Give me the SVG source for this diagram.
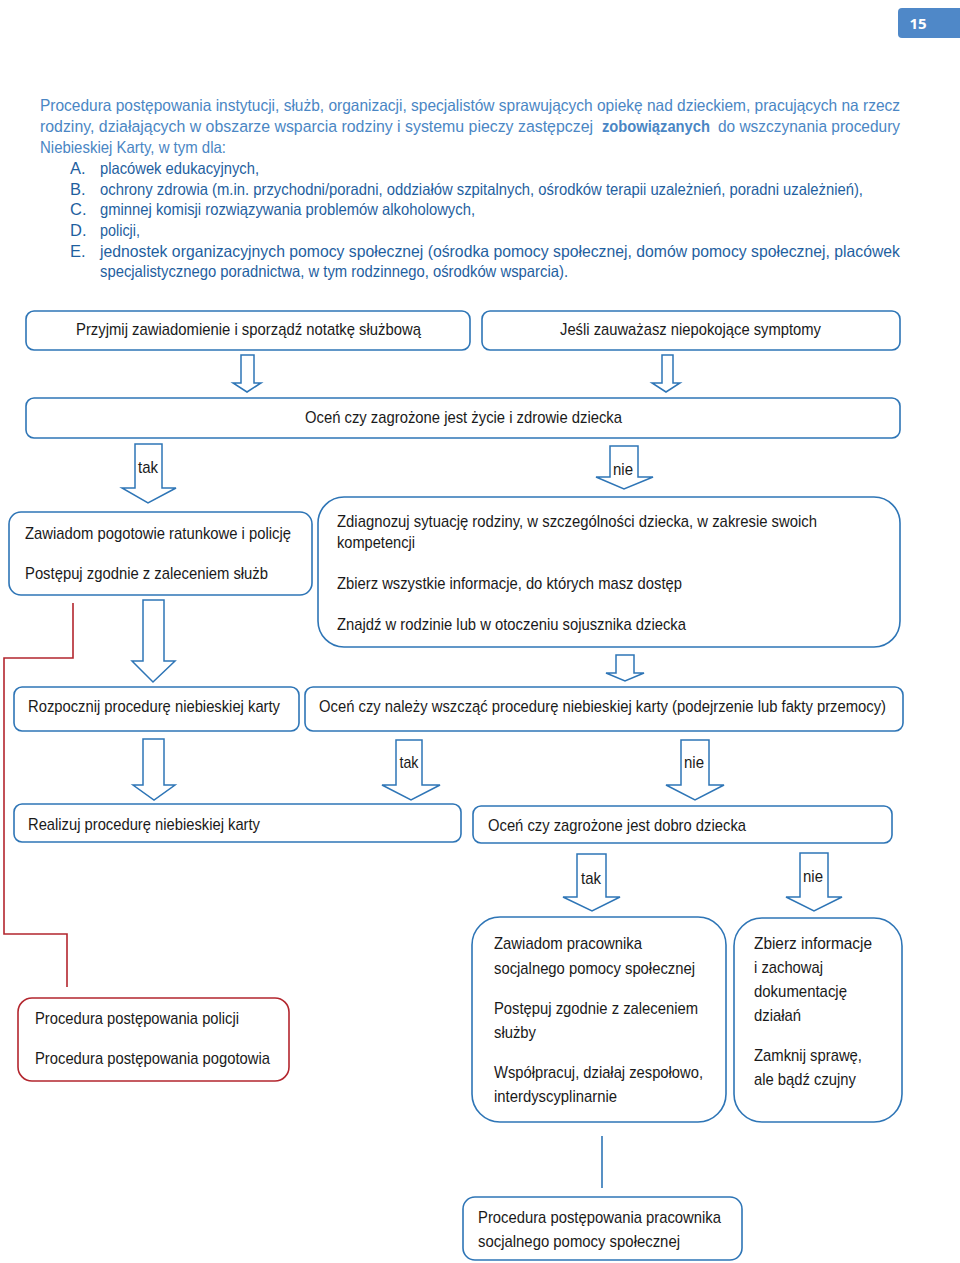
<svg xmlns="http://www.w3.org/2000/svg" width="960" height="1263" viewBox="0 0 960 1263">
<style>
.bx{fill:#fff;stroke:#2e75b6;stroke-width:1.6}
.rb{fill:#fff;stroke:#b3262e;stroke-width:1.6}
.ar{fill:#fff;stroke:#2e75b6;stroke-width:1.5;stroke-linejoin:miter}
.t{font-family:"Liberation Sans",Arial,sans-serif;font-size:17px;fill:#1a1a1a}
.p{font-family:"Liberation Sans",Arial,sans-serif;font-size:16.5px;fill:#4a86c4}
.l{font-family:"Liberation Sans",Arial,sans-serif;font-size:16.5px;fill:#1f5f9f}
</style>
<rect width="960" height="1263" fill="#fff"/>
<g id="page-number">
<path d="M902,8 H960 V38 H902 Q898,38 898,34 V12 Q898,8 902,8 Z" fill="#4f88c8"/>
<text x="918" y="29" font-family="'Open Sans','Liberation Sans',sans-serif" font-size="15" font-weight="bold" fill="#fff" text-anchor="middle">15</text>
</g>
<g id="intro">
<text class="p" x="40" y="111" textLength="860" lengthAdjust="spacingAndGlyphs">Procedura postępowania instytucji, służb, organizacji, specjalistów sprawujących opiekę nad dzieckiem, pracujących na rzecz</text>
<text class="p" transform="scale(0.82,1)" x="48.78" y="132" textLength="674.4" lengthAdjust="spacingAndGlyphs">rodziny, działających w obszarze wsparcia rodziny i systemu pieczy zastępczej</text>
<text class="p" transform="scale(0.82,1)" x="734.1" y="132" textLength="131.7" lengthAdjust="spacingAndGlyphs" font-weight="bold" fill="#2f66a3">zobowiązanych</text>
<text class="p" transform="scale(0.82,1)" x="875.6" y="132" textLength="222" lengthAdjust="spacingAndGlyphs">do wszczynania procedury</text>
<text class="p" x="40" y="153" textLength="186" lengthAdjust="spacingAndGlyphs">Niebieskiej Karty, w tym dla:</text>
<text class="l" x="70" y="174">A.</text>
<text class="l" x="100" y="174" textLength="159" lengthAdjust="spacingAndGlyphs">placówek edukacyjnych,</text>
<text class="l" x="70" y="195">B.</text>
<text class="l" x="100" y="195" textLength="763" lengthAdjust="spacingAndGlyphs">ochrony zdrowia (m.in. przychodni/poradni, oddziałów szpitalnych, ośrodków terapii uzależnień, poradni uzależnień),</text>
<text class="l" x="70" y="215">C.</text>
<text class="l" x="100" y="215" textLength="375" lengthAdjust="spacingAndGlyphs">gminnej komisji rozwiązywania problemów alkoholowych,</text>
<text class="l" x="70" y="236">D.</text>
<text class="l" x="100" y="236" textLength="40" lengthAdjust="spacingAndGlyphs">policji,</text>
<text class="l" x="70" y="257">E.</text>
<text class="l" x="100" y="257" textLength="800" lengthAdjust="spacingAndGlyphs">jednostek organizacyjnych pomocy społecznej (ośrodka pomocy społecznej, domów pomocy społecznej,  placówek</text>
<text class="l" x="100" y="277" textLength="468" lengthAdjust="spacingAndGlyphs">specjalistycznego poradnictwa, w tym rodzinnego, ośrodków wsparcia).</text>
</g>
<g id="connectors">
<polygon class="ar" points="241,355 254,355 254,383 261,383 247,392 233,383 241,383"/>
<polygon class="ar" points="662,355 673,355 673,383 680,383 666,392 652,383 662,383"/>
<polygon class="ar" points="135,444 162,444 162,488 176,488 148,503 122,488 135,488"/>
<polygon class="ar" points="610,446 638,446 638,477 653,477 624,489 596,477 610,477"/>
<polygon class="ar" points="143,600 164,600 164,661 175,661 153,682 132,661 143,661"/>
<polygon class="ar" points="616,655 634,655 634,673 644,673 625,681 606,673 616,673"/>
<polygon class="ar" points="143,739 164,739 164,785 175,785 154,800 133,785 143,785"/>
<polygon class="ar" points="396,740 422,740 422,785 440,785 411,800 382,785 396,785"/>
<polygon class="ar" points="681,740 709,740 709,785 724,785 695,800 666,785 681,785"/>
<polygon class="ar" points="577,854 606,854 606,897 620,897 592,911 563,897 577,897"/>
<polygon class="ar" points="800,853 828,853 828,897 842,897 814,911 786,897 800,897"/>
<path d="M73,603 V658 H4 V934 H67 V987" fill="none" stroke="#b3262e" stroke-width="1.6"/>
<line x1="602" y1="1136" x2="602" y2="1188" stroke="#2e75b6" stroke-width="1.6"/>
<text class="t" x="138" y="473" textLength="20" lengthAdjust="spacingAndGlyphs">tak</text>
<text class="t" x="613" y="475" textLength="20" lengthAdjust="spacingAndGlyphs">nie</text>
<text class="t" x="399.5" y="768" textLength="19" lengthAdjust="spacingAndGlyphs">tak</text>
<text class="t" x="684" y="768" textLength="20" lengthAdjust="spacingAndGlyphs">nie</text>
<text class="t" x="581" y="884" textLength="20" lengthAdjust="spacingAndGlyphs">tak</text>
<text class="t" x="803" y="882" textLength="20" lengthAdjust="spacingAndGlyphs">nie</text>
</g>
<g id="n-przyjmij">
<rect class="bx" x="26" y="311" width="444" height="39" rx="8"/>
<text class="t" x="76" y="335" textLength="345" lengthAdjust="spacingAndGlyphs">Przyjmij zawiadomienie i sporządź notatkę służbową</text>
</g>
<g id="n-symptomy">
<rect class="bx" x="482" y="311" width="418" height="39" rx="8"/>
<text class="t" x="560" y="335" textLength="261" lengthAdjust="spacingAndGlyphs">Jeśli zauważasz niepokojące symptomy</text>
</g>
<g id="n-ocen-zycie">
<rect class="bx" x="26" y="398" width="874" height="40" rx="8"/>
<text class="t" x="305" y="423" textLength="317" lengthAdjust="spacingAndGlyphs">Oceń czy zagrożone jest życie i zdrowie dziecka</text>
</g>
<g id="n-pogotowie">
<rect class="bx" x="9" y="512" width="303" height="83" rx="12"/>
<text class="t" x="25" y="539" textLength="266" lengthAdjust="spacingAndGlyphs">Zawiadom pogotowie ratunkowe i policję</text>
<text class="t" x="25" y="579" textLength="243" lengthAdjust="spacingAndGlyphs">Postępuj zgodnie z zaleceniem służb</text>
</g>
<g id="n-zdiagnozuj">
<rect class="bx" x="318" y="497" width="582" height="150" rx="26"/>
<text class="t" x="337" y="527" textLength="480" lengthAdjust="spacingAndGlyphs">Zdiagnozuj sytuację rodziny, w szczególności dziecka, w zakresie swoich</text>
<text class="t" x="337" y="548" textLength="78" lengthAdjust="spacingAndGlyphs">kompetencji</text>
<text class="t" x="337" y="589" textLength="345" lengthAdjust="spacingAndGlyphs">Zbierz wszystkie informacje, do których masz dostęp</text>
<text class="t" x="337" y="630" textLength="349" lengthAdjust="spacingAndGlyphs">Znajdź w rodzinie lub w otoczeniu sojusznika dziecka</text>
</g>
<g id="n-rozpocznij">
<rect class="bx" x="14" y="687" width="285" height="44" rx="8"/>
<text class="t" x="28" y="712" textLength="252" lengthAdjust="spacingAndGlyphs">Rozpocznij procedurę niebieskiej karty</text>
</g>
<g id="n-ocen-wszczac">
<rect class="bx" x="305" y="687" width="598" height="44" rx="8"/>
<text class="t" transform="scale(0.82,1)" x="389.02" y="712" textLength="691.5" lengthAdjust="spacingAndGlyphs">Oceń czy należy wszcząć procedurę niebieskiej karty (podejrzenie lub fakty przemocy)</text>
</g>
<g id="n-realizuj">
<rect class="bx" x="14" y="804" width="447" height="38" rx="8"/>
<text class="t" x="28" y="830" textLength="232" lengthAdjust="spacingAndGlyphs">Realizuj procedurę niebieskiej karty</text>
</g>
<g id="n-ocen-dobro">
<rect class="bx" x="473" y="806" width="419" height="37" rx="8"/>
<text class="t" x="488" y="831" textLength="258" lengthAdjust="spacingAndGlyphs">Oceń czy zagrożone jest dobro dziecka</text>
</g>
<g id="n-pracownik">
<rect class="bx" x="472" y="917" width="254" height="205" rx="28"/>
<text class="t" x="494" y="949" textLength="148" lengthAdjust="spacingAndGlyphs">Zawiadom pracownika</text>
<text class="t" x="494" y="974" textLength="201" lengthAdjust="spacingAndGlyphs">socjalnego pomocy społecznej</text>
<text class="t" x="494" y="1014" textLength="204" lengthAdjust="spacingAndGlyphs">Postępuj zgodnie z zaleceniem</text>
<text class="t" x="494" y="1038" textLength="42" lengthAdjust="spacingAndGlyphs">służby</text>
<text class="t" x="494" y="1078" textLength="209" lengthAdjust="spacingAndGlyphs">Współpracuj, działaj zespołowo,</text>
<text class="t" x="494" y="1102" textLength="123" lengthAdjust="spacingAndGlyphs">interdyscyplinarnie</text>
</g>
<g id="n-zbierz">
<rect class="bx" x="734" y="918" width="168" height="204" rx="28"/>
<text class="t" x="754" y="949" textLength="118" lengthAdjust="spacingAndGlyphs">Zbierz  informacje</text>
<text class="t" x="754" y="973" textLength="69" lengthAdjust="spacingAndGlyphs">i zachowaj</text>
<text class="t" x="754" y="997" textLength="93" lengthAdjust="spacingAndGlyphs">dokumentację</text>
<text class="t" x="754" y="1021" textLength="47" lengthAdjust="spacingAndGlyphs">działań</text>
<text class="t" x="754" y="1061" textLength="108" lengthAdjust="spacingAndGlyphs">Zamknij sprawę,</text>
<text class="t" x="754" y="1085" textLength="102" lengthAdjust="spacingAndGlyphs">ale bądź czujny</text>
</g>
<g id="n-procedury-policja">
<rect class="rb" x="18" y="998" width="271" height="83" rx="14"/>
<text class="t" x="35" y="1024" textLength="204" lengthAdjust="spacingAndGlyphs">Procedura postępowania policji</text>
<text class="t" x="35" y="1064" textLength="235" lengthAdjust="spacingAndGlyphs">Procedura postępowania pogotowia</text>
</g>
<g id="n-procedura-pracownik">
<rect class="bx" x="463" y="1197" width="279" height="63" rx="12"/>
<text class="t" x="478" y="1223" textLength="243" lengthAdjust="spacingAndGlyphs">Procedura postępowania pracownika</text>
<text class="t" x="478" y="1247" textLength="202" lengthAdjust="spacingAndGlyphs">socjalnego pomocy społecznej</text>
</g>
</svg>
